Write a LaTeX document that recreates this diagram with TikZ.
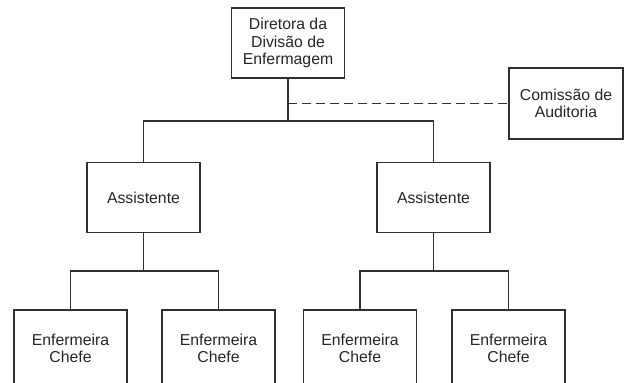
\documentclass[tikz,border=0pt]{standalone}
\usepackage{fontspec}
\setmainfont{Liberation Sans}
\definecolor{linegray}{HTML}{303030}
\definecolor{textgray}{HTML}{262626}

\begin{document}
\begin{tikzpicture}[x=0.5pt,y=-0.5pt,
    box/.style={draw=linegray,line width=0.65pt,fill=white,align=center,
      minimum width=56.5pt,minimum height=35pt,inner sep=1pt,
      text=textgray,font=\fontsize{7.9}{8.6}\selectfont},
    link/.style={draw=linegray,line width=0.65pt}]
      \useasboundingbox (0,0) rectangle (627,382);
      \clip (0,0) rectangle (627,382);

      % Draw the boxes
      \node[box] (dir) at (288,43) {Diretora da\\Divisão de\\Enfermagem};
      \node[box,minimum width=57pt,minimum height=35.5pt] (com) at (566,103.5) {Comissão de\\Auditoria};
      \node[box] (ass1) at (143.5,197.5) {Assistente};
      \node[box] (ass2) at (433.5,197.5) {Assistente};
      \node[box,minimum height=38pt] (enf1) at (70.5,348) {Enfermeira\\Chefe};
      \node[box,minimum height=38pt] (enf2) at (218.5,348) {Enfermeira\\Chefe};
      \node[box,minimum height=38pt] (enf3) at (360,348) {Enfermeira\\Chefe};
      \node[box,minimum height=38pt] (enf4) at (508.5,348) {Enfermeira\\Chefe};

      % Draw the junctions
      \coordinate (top) at (288,121);
      \coordinate (left) at (143.5,271);
      \coordinate (right) at (433.5,271);

      % Draw the links
      \draw[link] (dir.south) -- (top);
      \draw[link] (ass1.north) |- (top) -| (ass2.north);
      \draw[link,dash pattern=on 4.5pt off 2.5pt] (com.west -| dir.south) -- (com.west);
      \draw[link] (ass1.south) -- (left);
      \draw[link] (enf1.north) |- (left) -| (enf2.north);
      \draw[link] (ass2.south) -- (right);
      \draw[link] (enf3.north) |- (right) -| (enf4.north);
  \end{tikzpicture}
\end{document}
